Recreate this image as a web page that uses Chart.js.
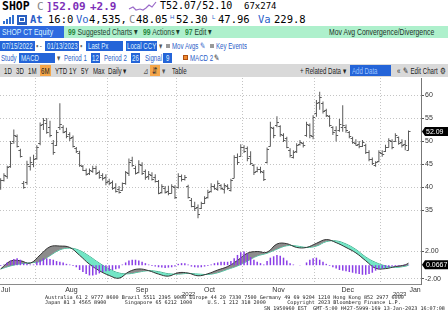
<!DOCTYPE html>
<html>
<head>
<meta charset="utf-8">
<script src="https://cdn.jsdelivr.net/npm/chart.js@4.4.1/dist/chart.umd.min.js"></script>
<style>
body{margin:0;width:448px;height:322px;overflow:hidden;background:#fff;position:relative;font-family:"Liberation Sans",Arial,sans-serif}
.a{position:absolute;white-space:nowrap;line-height:1}
.m{font-family:"DejaVu Sans Mono",monospace;font-size:11px}
.r2{font-size:10.5px}
.n{font-size:9.5px;transform:scaleX(.72);transform-origin:0 0}
.s{font-size:8.5px;transform:scaleX(.72);transform-origin:0 0}
.bl{color:#2a5ec8}
.pu{color:#7d2fb8}
.w{color:#dff0ff}
.bk{position:absolute;background:#2464d8}
.ft{position:absolute;white-space:pre;font-family:"DejaVu Sans Mono",monospace;font-size:5.1px;line-height:1;color:#222}
</style>
</head>
<body>
<!-- row 1 -->
<span class="a m" style="left:2px;top:1px;font-weight:bold;font-size:11.5px">SHOP</span>
<span class="a m" style="left:37px;top:1px;color:#888">C</span>
<span class="a m pu" style="left:46px;top:1px;font-weight:bold">]52.09</span>
<span class="a m pu" style="left:90px;top:1px;font-weight:bold">+2.9</span>
<svg class="a" style="left:128px;top:1px" width="30" height="11"><polyline points="1,8 5,6 8,9 12,8 15,9 18,7 21,4 24,6 28,1" fill="none" stroke="#9a6ac8" stroke-width="1.2"/></svg>
<span class="a m" style="left:160px;top:1px;font-size:10px">T52.07/52.10</span>
<span class="a m" style="left:244px;top:2px;font-size:9px">67x274</span>
<!-- row 2 -->
<span class="a" style="left:3px;top:21px;width:2px;height:3px;background:#3070d0"></span>
<span class="a" style="left:6px;top:19px;width:2px;height:5px;background:#3070d0"></span>
<span class="a" style="left:9px;top:17px;width:2px;height:7px;background:#3070d0"></span>
<span class="a" style="left:12px;top:15px;width:2px;height:9px;background:#3070d0"></span>
<span class="a" style="left:17px;top:15px;width:10px;height:10px;background:#2a60c0"></span>
<span class="a" style="left:19px;top:17px;width:6px;height:5px;border:1px solid #fff;box-sizing:border-box"></span>
<span class="a m r2 bl" style="left:30px;top:14px;font-weight:bold">At</span>
<span class="a m r2" style="left:48px;top:14px">16:0</span>
<span class="a m r2 bl" style="left:76px;top:14px">Vo</span>
<span class="a m r2" style="left:89px;top:14px">4,535,</span>
<span class="a m r2" style="left:129px;top:14px;color:#888">C</span>
<span class="a m r2" style="left:136px;top:14px">48.05</span>
<span class="a bl" style="left:170px;top:14px;font-size:6px">H</span>
<span class="a m r2" style="left:176px;top:14px">52.30</span>
<span class="a bl" style="left:212px;top:14px;font-size:6px">L</span>
<span class="a m r2" style="left:218px;top:14px">47.96</span>
<span class="a m r2 bl" style="left:258px;top:14px">Va</span>
<span class="a m r2" style="left:274px;top:14px">229.8</span>
<!-- row 3 -->
<div class="a" style="left:0;top:26px;width:448px;height:12px;background:#aef0cc"></div>
<div class="a" style="left:0;top:26px;width:64px;height:12px;background:#2e6ae0"></div>
<span class="a n" style="left:2px;top:27px;color:#d8f4ff">SHOP CT Equity</span>
<span class="a n" style="left:68px;top:27px;color:#1d4030"><b style="color:#2a8a40">99</b> Suggested Charts ▾</span>
<span class="a n" style="left:143px;top:27px;color:#1d4030"><b style="color:#2a8a40">99</b> Actions ▾</span>
<span class="a n" style="left:185px;top:27px;color:#1d4030"><b style="color:#2a8a40">97</b> Edit ▾</span>
<span class="a n" style="left:329px;top:27px;color:#1d3028">Mov Avg Convergence/Divergence</span>
<!-- row 4 -->
<div class="bk" style="left:0;top:41px;width:35px;height:10px"></div>
<span class="a s w" style="left:2px;top:42px">07/15/2022</span>
<span class="a s" style="left:36px;top:42px;color:#666">▪ -</span>
<div class="bk" style="left:45px;top:41px;width:34px;height:10px"></div>
<span class="a s w" style="left:47px;top:42px">01/13/2023</span>
<span class="a s" style="left:80px;top:42px;color:#666">▪</span>
<div class="bk" style="left:86px;top:41px;width:37px;height:10px"></div>
<span class="a s w" style="left:88px;top:42px">Last Px</span>
<div class="bk" style="left:126px;top:41px;width:31px;height:10px"></div>
<span class="a s w" style="left:127px;top:42px">Local CCY</span>
<span class="a s" style="left:159px;top:42px;color:#555">▾</span>
<span class="a" style="left:166px;top:44px;width:4px;height:4px;background:#999"></span>
<span class="a s bl" style="left:172px;top:42px">Mov Avgs ✎</span>
<span class="a" style="left:210px;top:44px;width:4px;height:4px;background:#999"></span>
<span class="a s bl" style="left:216px;top:42px">Key Events</span>
<!-- row 5 -->
<span class="a s bl" style="left:1px;top:54px">Study</span>
<div class="bk" style="left:19px;top:53px;width:36px;height:10px"></div>
<span class="a s w" style="left:21px;top:54px">MACD</span>
<span class="a s" style="left:57px;top:54px;color:#555">▾</span>
<span class="a s bl" style="left:64px;top:54px">Period 1</span>
<div class="bk" style="left:91px;top:53px;width:9px;height:10px"></div>
<span class="a s w" style="left:92px;top:54px">12</span>
<span class="a s bl" style="left:104px;top:54px">Period 2</span>
<div class="bk" style="left:131px;top:53px;width:9px;height:10px"></div>
<span class="a s w" style="left:132px;top:54px">26</span>
<span class="a s bl" style="left:145px;top:54px">Signal</span>
<div class="bk" style="left:163px;top:53px;width:9px;height:10px"></div>
<span class="a s w" style="left:166px;top:54px">9</span>
<span class="a" style="left:183px;top:55px;width:5px;height:5px;background:#f08a30;border:1px solid #b05010;box-sizing:border-box"></span>
<span class="a s bl" style="left:190px;top:54px">MACD 2</span>
<span class="a s" style="left:214px;top:54px;color:#222">✎</span>
<!-- row 6 -->
<div class="a" style="left:0;top:64px;width:448px;height:13px;background:#d9d9d9"></div>
<div class="a" style="left:40px;top:65px;width:11px;height:11px;background:#f4a64a"></div>
<span class="a s" style="left:4px;top:67px;color:#222">1D</span>
<span class="a s" style="left:16px;top:67px;color:#222">3D</span>
<span class="a s" style="left:28px;top:67px;color:#222">1M</span>
<span class="a s" style="left:41px;top:67px;color:#222">6M</span>
<span class="a s" style="left:55px;top:67px;color:#222">YTD</span>
<span class="a s" style="left:69px;top:67px;color:#222">1Y</span>
<span class="a s" style="left:81px;top:67px;color:#222">5Y</span>
<span class="a s" style="left:93px;top:67px;color:#222">Max</span>
<span class="a s" style="left:108px;top:67px;color:#222">Daily ▾</span>
<span class="a s" style="left:143px;top:67px;color:#555">⊿</span>
<div class="a" style="left:150px;top:65px;width:10px;height:11px;background:#f4a64a"></div>
<span class="a s" style="left:152px;top:67px;color:#333">⇵</span>
<span class="a s" style="left:162px;top:67px;color:#555">▾</span>
<span class="a s" style="left:172px;top:67px;color:#222">Table</span>
<span class="a s" style="left:300px;top:67px;color:#222">+ Related Data ▾</span>
<div class="bk" style="left:350px;top:65px;width:41px;height:11px"></div>
<span class="a s" style="left:352px;top:67px;color:#9fc4ff">Add Data</span>
<span class="a s" style="left:397px;top:67px;color:#222">«</span>
<span class="a s" style="left:403px;top:67px;color:#222">✎ Edit Chart</span>
<span class="a s" style="left:440px;top:67px;color:#222">⚙</span>

<canvas id="main" class="a" style="left:0;top:78px" width="448" height="155"></canvas>
<canvas id="macd" class="a" style="left:0;top:233px" width="448" height="62"></canvas>

<span class="a" style="left:182px;top:291px;font-size:6px;color:#333">2022</span>
<span class="a" style="left:393px;top:291px;font-size:6px;color:#333">2023</span>
<div class="ft" style="left:45px;top:295px">Australia 61 2 9777 8600 Brazil 5511 2395 9000 Europe 44 20 7330 7500 Germany 49 69 9204 1210 Hong Kong 852 2977 6000</div>
<div class="ft" style="left:45px;top:300px">Japan 81 3 4565 8900      Singapore 65 6212 1000     U.S. 1 212 318 2000       Copyright 2023 Bloomberg Finance L.P.</div>
<div class="ft" style="left:264px;top:306px">SN 1950960 EST  GMT-5:00 H427-5999-169 13-Jan-2023 16:07:08</div>

<script>
// trading days shown, 07/15/2022 - 01/13/2023
const months = ['Jul', 'Aug', 'Sep', 'Oct', 'Nov', 'Dec', 'Jan'];
const daysByMonth = [
  [15,18,19,20,21,22,25,26,27,28,29],
  [2,3,4,5,8,9,10,11,12,15,16,17,18,19,22,23,24,25,26,29,30,31],
  [1,2,6,7,8,9,12,13,14,15,16,19,20,21,22,23,26,27,28,29,30],
  [3,4,5,6,7,11,12,13,14,17,18,19,20,21,24,25,26,27,28,31],
  [1,2,3,4,7,8,9,10,11,14,15,16,17,18,21,22,23,24,25,28,29,30],
  [1,2,5,6,7,8,9,12,13,14,15,16,19,20,21,22,23,28,29,30],
  [3,4,5,6,9,10,11,12,13]
];

const highs = [
  41.9,43.0,44.6,50.0,52.5,51.4,48.3,41.3,45.7,46.6,47.0,
  49.1,54.0,55.0,55.0,54.4,50.2,52.4,58.2,53.4,52.9,51.9,51.2,48.7,47.9,44.8,44.0,44.0,44.6,44.6,43.6,43.0,42.8,
  41.8,41.4,40.8,40.2,41.0,43.5,46.2,46.6,44.6,45.8,45.4,43.8,43.5,43.2,42.8,41.5,40.6,40.2,40.3,40.6,40.4,
  43.0,42.7,42.6,40.5,37.6,36.8,36.2,36.8,38.0,39.4,40.8,40.6,41.4,40.6,40.8,40.6,41.8,46.9,47.3,
  49.3,49.1,48.8,47.8,45.0,44.4,44.4,43.7,48.6,54.2,53.1,55.4,53.4,51.7,50.9,48.4,48.0,49.5,50.2,49.8,54.2,53.8,55.6,
  58.9,60.7,58.6,57.0,55.6,53.2,53.2,54.8,57.8,53.6,52.2,50.9,50.4,50.0,50.2,49.4,48.0,46.4,45.6,48.0,
  48.0,49.2,50.6,50.4,51.7,51.0,50.4,50.2,52.30
];
const lows = [
  39.4,41.2,41.8,44.2,49.4,48.6,46.4,39.6,40.5,43.6,44.3,
  45.9,49.1,52.4,51.6,50.8,47.0,48.9,52.4,51.7,50.6,50.0,48.6,47.4,44.4,43.5,42.5,42.6,43.1,42.6,41.8,41.4,40.4,
  40.4,39.4,38.8,38.6,39.2,40.5,42.4,44.4,42.7,43.0,42.6,41.6,41.6,41.4,41.0,38.4,38.6,38.6,38.2,38.6,37.4,
  39.7,41.2,41.4,37.5,35.6,34.8,33.2,35.2,36.3,37.5,38.8,39.4,39.2,39.4,38.6,39.4,39.0,41.9,44.8,
  46.6,47.4,45.6,44.8,42.6,43.2,43.0,41.3,45.1,48.8,50.6,53.0,50.9,49.8,48.4,46.4,46.2,47.4,49.0,48.6,50.9,50.6,50.4,
  55.3,56.8,56.0,55.2,53.1,51.3,49.9,52.0,52.0,51.8,50.6,49.4,49.0,48.4,48.7,47.2,45.6,44.8,44.4,45.4,
  46.6,47.6,48.6,48.2,49.8,49.2,48.6,48.0,47.96
];
const opens = [
  40.0,41.6,42.5,44.5,50.0,51.0,48.0,40.9,41.0,44.5,45.0,
  46.2,49.5,53.8,54.0,53.0,49.5,49.2,53.0,53.0,52.2,51.5,50.8,48.5,47.3,44.6,43.8,43.0,43.4,44.2,43.3,42.6,42.2,
  41.4,41.0,40.0,39.6,39.4,40.8,43.0,45.8,44.2,43.2,44.8,43.4,42.4,42.6,42.2,41.2,39.0,39.8,39.2,38.8,40.0,
  40.0,42.4,41.8,40.2,37.2,35.8,35.6,35.4,36.6,37.8,39.2,40.2,39.6,40.4,39.6,40.2,39.4,42.0,46.6,
  46.8,48.8,48.4,46.8,44.8,43.4,44.0,43.2,45.4,49.0,52.8,53.4,53.2,51.4,50.6,48.0,46.6,47.8,49.4,49.6,51.2,53.4,51.0,
  56.0,58.4,58.2,56.8,55.4,53.0,52.4,52.4,53.0,53.0,52.0,50.6,49.6,49.4,48.9,49.2,47.6,46.0,44.8,45.6,
  47.4,47.8,48.8,50.0,50.0,50.8,49.8,49.4,48.05
];
const closes = [
  41.5,42.7,44.3,49.6,51.3,49.0,46.8,40.0,45.0,45.5,46.0,
  48.8,53.5,54.5,52.0,51.2,47.6,52.0,53.8,52.0,51.0,50.6,49.0,47.8,44.8,43.8,42.9,43.7,44.2,43.0,42.2,41.9,41.0,
  40.8,39.8,39.2,39.0,40.8,43.2,45.5,44.8,43.0,45.0,43.0,42.2,42.8,41.8,41.4,38.8,40.2,39.0,38.6,40.2,37.8,
  42.4,41.8,42.2,37.8,35.9,35.4,34.2,36.5,37.6,39.0,40.2,39.7,40.9,39.8,40.4,39.8,41.5,46.5,45.4,
  48.8,47.8,46.2,45.2,43.2,44.0,43.4,41.8,48.2,53.0,51.2,54.2,51.5,50.2,48.8,46.9,47.6,49.2,49.8,49.2,53.8,51.4,55.2,
  58.2,59.6,56.6,55.6,53.4,52.0,51.2,53.6,53.4,52.4,51.0,49.8,49.2,49.0,49.8,47.6,46.0,45.2,45.4,47.6,
  47.2,48.8,50.2,48.8,51.2,49.6,49.2,49.19,52.09
];
const priceTicks = [35, 40, 45, 50, 55, 60];

// MACD(12,26,9), every third session
const macdDays = [0,3,6,9,12,15,18,21,24,27,30,33,36,39,42,45,48,51,54,57,60,63,66,69,72,75,78,81,84,87,90,93,96,99,102,105,108,111,114,117,120,123,124];
const macdLine = [-0.55,0.6,0.65,0.3,1.5,2.7,2.8,2.6,1.45,0.15,-0.8,-1.5,-1.9,-0.95,-0.55,-0.8,-1.3,-1.6,-1.1,-1.15,-1.55,-1.25,-0.7,-0.2,0.7,1.75,2.0,1.9,3.1,3.15,2.6,2.6,3.2,3.75,3.3,2.6,1.8,0.65,-0.45,-0.5,-0.2,0.05,0.3];
const signalLine = [-0.55,-0.1,0.2,0.35,0.55,1.4,2.25,2.5,2.15,1.3,0.3,-0.55,-1.15,-1.25,-1.0,-0.8,-0.95,-1.25,-1.3,-1.2,-1.3,-1.35,-1.1,-0.6,-0.1,0.6,1.35,1.75,2.35,2.85,2.8,2.6,2.8,3.45,3.55,3.1,2.3,1.2,0.4,-0.1,-0.3,-0.15,0.0];
const histogram = [
  -0.1,0.1,0.4,0.7,0.9,1.0,0.8,0.3,0.2,0.1,0.1,
  0.5,0.8,1.0,1.0,0.9,0.8,0.6,0.5,0.4,0.2,0.1,-0.1,-0.3,-0.7,-1.0,-1.3,-1.5,-1.5,-1.4,-1.2,-1.0,-0.9,
  -0.8,-0.7,-0.6,-0.5,0.1,0.4,0.7,0.8,0.8,0.7,0.5,0.3,0.1,-0.1,-0.2,-0.3,-0.35,-0.4,-0.35,-0.3,-0.2,
  0.2,0.3,0.3,0.1,-0.2,-0.3,-0.35,-0.3,-0.2,-0.1,0.1,0.3,0.4,0.5,0.5,0.5,0.6,1.0,1.5,
  1.9,2.0,1.7,1.2,0.8,0.5,0.3,0.1,0.6,1.1,1.3,1.5,1.4,1.1,0.7,0.3,0.1,0.0,-0.05,0.0,0.4,0.8,1.0,
  1.1,0.8,0.5,0.2,-0.1,-0.3,-0.5,-0.7,-0.8,-0.9,-1.0,-1.1,-1.2,-1.3,-1.4,-1.4,-1.3,-1.1,-0.8,-0.6,
  -0.5,-0.4,-0.3,-0.2,-0.15,-0.1,-0.05,0.05,0.0667
];
const macdTicks = [-2, 2];

// month boundaries / label spots in session index units
const monthStart = [];
let n = 0;
daysByMonth.forEach(d => { monthStart.push(n); n += d.length; });
const boundaries = monthStart.slice(1).map(v => v - 0.5);
const labelPos = months.map((m, k) => {
  if (k === 0) return Math.max(boundaries[0] - 10.5, 1.5);
  if (k === months.length - 1) return boundaries[k - 1] + 10.5;
  return (boundaries[k - 1] + boundaries[k]) / 2;
});

const X_MIN = -0.2, X_MAX = 127.8;
const gridCol = '#c4c4c4';
const clear = 'rgba(0,0,0,0)';
const barCol = '#5a5a5a';

const fixRight = s => { s.width = 27; s.paddingTop = 0; s.paddingBottom = 0; };

// black last-value tag on the right axis
const valueBox = (id, value, text) => ({
  id,
  afterDraw(chart) {
    const { ctx, chartArea } = chart;
    const py = chart.scales.y.getPixelForValue(value);
    ctx.save();
    ctx.fillStyle = '#000';
    ctx.beginPath();
    ctx.moveTo(chartArea.right + 1, py);
    ctx.lineTo(chartArea.right + 4, py - 4.5);
    ctx.lineTo(448, py - 4.5);
    ctx.lineTo(448, py + 4.5);
    ctx.lineTo(chartArea.right + 4, py + 4.5);
    ctx.closePath();
    ctx.fill();
    ctx.fillStyle = '#fff';
    ctx.font = '7px "Liberation Sans"';
    ctx.textBaseline = 'middle';
    ctx.textAlign = 'left';
    ctx.fillText(text, chartArea.right + 5, py + 0.5);
    ctx.restore();
  }
});

const ohlcTicks = {
  id: 'ohlcTicks',
  afterDatasetsDraw(chart) {
    const { ctx, scales: { x, y } } = chart;
    ctx.save();
    ctx.strokeStyle = barCol;
    ctx.lineWidth = 1;
    ctx.beginPath();
    for (let i = 0; i < opens.length; i++) {
      const px = x.getPixelForValue(i);
      const yo = Math.round(y.getPixelForValue(opens[i])) + 0.5;
      const yc = Math.round(y.getPixelForValue(closes[i])) + 0.5;
      ctx.moveTo(px - 2, yo); ctx.lineTo(px, yo);
      ctx.moveTo(px, yc); ctx.lineTo(px + 2, yc);
    }
    ctx.stroke();
    ctx.restore();
  }
};

// lower panel first: one bottom axis, month boundaries carry the grid, mid-month spots carry the names
const macdX = boundaries.concat(labelPos);
new Chart(document.getElementById('macd'), {
  type: 'bar',
  data: {
    datasets: [
      {
        data: histogram.map((v, i) => ({ x: i, y: v })),
        backgroundColor: '#8a3ee6',
        barThickness: 1.5,
        inflateAmount: 0,
        order: 0
      },
      {
        type: 'line',
        data: macdDays.map((d, k) => ({ x: d, y: macdLine[k] })),
        borderColor: '#333', borderWidth: 1, pointRadius: 0, tension: 0.4,
        fill: { target: 2, above: '#8c8c8c', below: '#72e6c6' },
        order: 1
      },
      {
        type: 'line',
        data: macdDays.map((d, k) => ({ x: d, y: signalLine[k] })),
        borderColor: '#36b890', borderWidth: 1, pointRadius: 0, tension: 0.4,
        order: 1
      }
    ]
  },
  options: {
    responsive: false,
    animation: false,
    layout: { padding: 0 },
    plugins: { legend: { display: false }, tooltip: { enabled: false } },
    scales: {
      x: {
        type: 'linear', min: X_MIN, max: X_MAX, offset: false,
        afterBuildTicks: s => { s.ticks = macdX.map(v => ({ value: v })); },
        afterFit: s => { s.height = 11; s.paddingLeft = 0; s.paddingRight = 0; },
        ticks: {
          font: { family: 'Liberation Sans', size: 7 }, color: '#333', padding: 2, autoSkip: false, maxRotation: 0,
          callback: v => { const k = labelPos.indexOf(v); return k < 0 ? '' : months[k]; }
        },
        grid: {
          color: c => c.tick && labelPos.includes(c.tick.value) ? clear : gridCol,
          drawTicks: false, offset: false
        },
        border: { display: true, color: '#8a8a8a', dash: [1, 2] }
      },
      y: {
        position: 'right', min: -2.75, max: 4.71,
        afterBuildTicks: s => { s.ticks = macdTicks.map(v => ({ value: v })); },
        afterFit: fixRight,
        ticks: {
          font: { family: 'Liberation Sans', size: 7 }, color: '#333', padding: 1, autoSkip: false,
          callback: v => v.toFixed(2)
        },
        grid: { color: gridCol, tickLength: 3, tickColor: '#555' },
        border: { color: '#777', dash: [1, 2] }
      }
    }
  },
  plugins: [valueBox('lastMacd', histogram[histogram.length - 1], '0.0667')]
});

new Chart(document.getElementById('main'), {
  type: 'bar',
  data: {
    datasets: [{
      data: highs.map((h, i) => ({ x: i, y: [lows[i], h] })),
      backgroundColor: barCol,
      barThickness: 1,
      inflateAmount: 0
    }]
  },
  options: {
    responsive: false,
    animation: false,
    layout: { padding: 0 },
    plugins: { legend: { display: false }, tooltip: { enabled: false } },
    scales: {
      x: {
        type: 'linear', min: X_MIN, max: X_MAX, offset: false,
        afterBuildTicks: s => { s.ticks = boundaries.map(v => ({ value: v })); },
        afterFit: s => { s.height = 0; s.paddingLeft = 0; s.paddingRight = 0; },
        ticks: { display: false },
        grid: { color: gridCol, drawTicks: false, offset: false },
        border: { display: true, color: '#8a8a8a', dash: [1, 2] }
      },
      y: {
        position: 'right', min: 30, max: 63.7,
        afterBuildTicks: s => { s.ticks = priceTicks.map(v => ({ value: v })); },
        afterFit: fixRight,
        ticks: { font: { family: 'Liberation Sans', size: 7 }, color: '#333', padding: 1, autoSkip: false },
        grid: { color: gridCol, tickLength: 3, tickColor: '#555' },
        border: { color: '#777', dash: [1, 2] }
      }
    }
  },
  plugins: [ohlcTicks, valueBox('lastPx', closes[closes.length - 1], '52.09')]
});
</script>
</body>
</html>
